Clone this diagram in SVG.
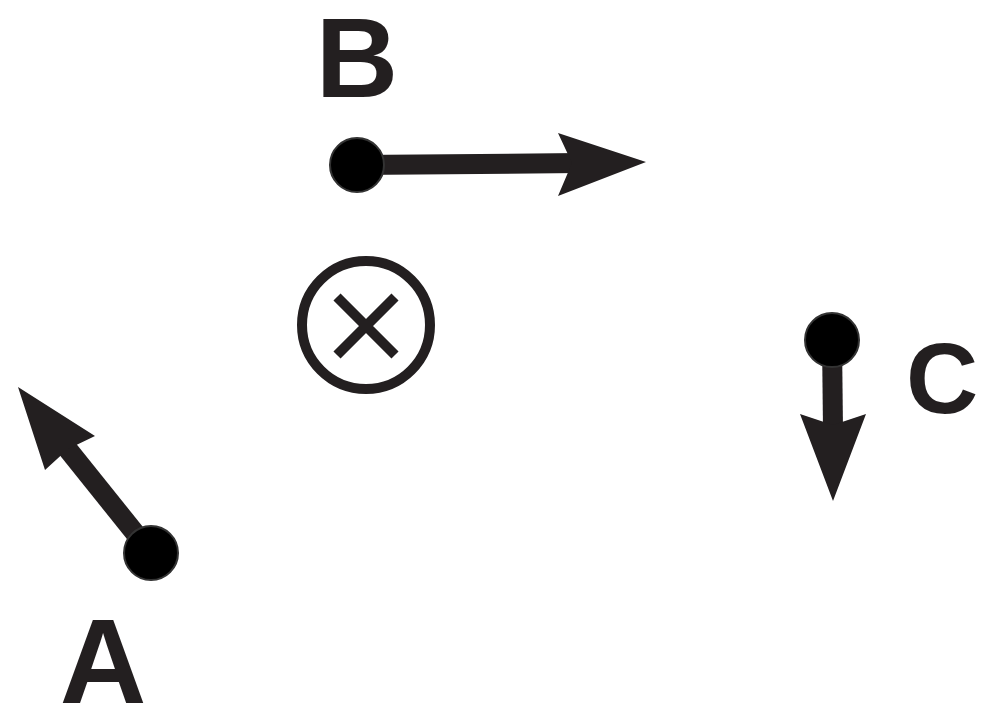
<svg xmlns="http://www.w3.org/2000/svg" width="1000" height="712" viewBox="0 0 1000 712">
<style>
.lbl{font-family:"Liberation Sans",Arial,sans-serif;font-weight:bold;fill:#231f20;text-anchor:middle}
.dot{fill:#000;stroke:#333;stroke-width:2}
.shaft{stroke:#231f20;stroke-width:20;fill:none}
.head{fill:#231f20}
</style>
<rect width="1000" height="712" fill="#fff"/>
<g id="connectors">
<line class="shaft" x1="357" y1="165" x2="580" y2="163"/>
<polygon class="head" points="646,162 558,133 572,163 558,196"/>
<line class="shaft" x1="832" y1="340" x2="833" y2="430"/>
<polygon class="head" points="833,501 800,414 833,425 866,414"/>
<line class="shaft" x1="151" y1="553" x2="62" y2="442"/>
<polygon class="head" points="18,387 95,436 68,449 45,470"/>
</g>
<g id="B">
<text class="lbl" x="357" y="97" font-size="114">B</text>
<circle class="dot" cx="357" cy="165" r="27"/>
</g>
<g id="X">
<circle cx="366" cy="325" r="64" fill="none" stroke="#231f20" stroke-width="10"/>
<path d="M337,297 L395,355 M395,297 L337,355" stroke="#231f20" stroke-width="10"/>
</g>
<g id="C">
<circle class="dot" cx="832" cy="340" r="27"/>
<text class="lbl" x="942" y="413" font-size="100">C</text>
</g>
<g id="A">
<circle class="dot" cx="151" cy="553" r="27"/>
<text class="lbl" x="103" y="703" font-size="120">A</text>
</g>
</svg>
